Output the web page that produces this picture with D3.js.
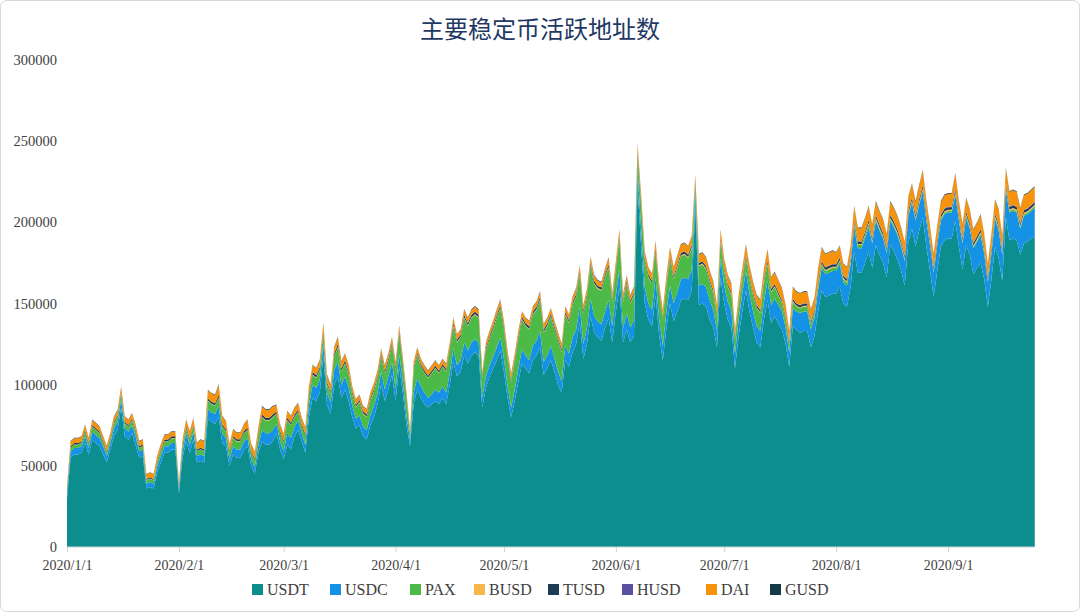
<!DOCTYPE html>
<html><head><meta charset="utf-8">
<script src="https://cdn.jsdelivr.net/npm/d3@7/dist/d3.min.js"></script>
<style>body{margin:0;background:#fff}svg{display:block}</style>
</head><body><svg id="c" width="1080" height="612"></svg>
<script>
// values in thousands of addresses, daily from 2020/1/1 to 2020/9/25
const unit = 1000;
const startDate = "2020-01-01";
const seriesNames = ["USDT","USDC","PAX","BUSD","TUSD","HUSD","DAI","GUSD"];
const yTicks = [0,50000,100000,150000,200000,250000,300000];
const xTickLabels = ["2020/1/1","2020/2/1","2020/3/1","2020/4/1","2020/5/1","2020/6/1","2020/7/1","2020/8/1","2020/9/1"];

const USDT = [
30,55,57,57,58,64,57,66,64,62,57,52,60,68,72,86,68,66,70,63,55,56,36,37,36,46,52,58,58,60,60,
33,55,65,58,66,52,53,52,79,77,76,80,64,62,50,57,55,55,60,62,50,45,58,65,63,63,65,70,60,
54,63,60,68,72,65,58,80,92,90,95,118,88,82,100,105,92,97,90,80,73,75,68,66,75,80,88,100,90,97,106,
90,111,95,75,62,88,97,92,88,86,88,90,88,92,88,100,114,105,108,118,113,118,120,118,86,98,105,110,115,121,
108,92,80,90,102,113,110,107,115,118,123,106,110,115,108,100,95,115,111,120,125,138,116,125,142,132,129,127,135,141,126,
145,160,126,134,126,130,222,185,150,140,136,155,130,115,135,150,139,145,152,153,152,158,210,149,150,148,140,135,123,166,
150,140,135,110,130,145,158,145,135,126,123,140,152,138,142,138,134,125,111,136,134,132,133,133,123,130,145,158,154,155,156,
156,160,150,148,160,182,169,169,175,182,172,186,180,175,166,186,182,177,170,161,188,196,185,195,203,185,170,154,170,185,189,
190,190,201,185,171,186,180,168,172,175,165,148,165,185,178,164,203,189,190,189,180,187,188,190,191];
const USDC = [
3,4,4,4,4,4,4,5,5,5,5,4,4,5,5,5,5,5,5,5,4,4,3,3,3,4,4,4,4,4,4,
3,4,5,5,5,4,4,4,6,6,6,7,6,5,4,5,5,5,5,5,4,4,5,7,7,7,7,6,5,
5,7,7,6,6,5,5,7,8,8,8,7,7,7,9,9,8,8,8,7,6,6,6,6,6,7,7,8,7,8,8,
7,8,7,6,4,7,7,7,7,6,6,7,7,7,7,7,8,7,7,8,8,8,8,8,6,7,7,7,8,8,
8,7,6,7,8,9,8,8,9,9,10,8,8,9,8,8,7,9,8,9,9,10,9,10,11,10,10,10,10,11,10,
10,11,9,10,9,10,10,11,10,10,10,11,10,9,10,11,11,12,13,13,13,13,8,12,12,12,12,11,10,12,
11,11,10,9,10,11,12,11,10,10,10,11,12,11,11,11,11,10,9,11,11,12,12,12,11,11,13,14,14,14,14,
14,14,13,13,14,15,15,15,15,15,15,15,15,15,15,15,15,15,15,15,16,16,16,16,16,16,16,15,16,16,16,
16,16,16,16,16,17,16,16,16,17,16,15,16,17,17,16,17,17,17,17,16,17,17,17,18];
const PAX = [
2,2,2,2,2,3,2,3,3,3,2,2,2,3,3,3,3,3,3,3,2,2,2,2,2,2,3,3,3,3,3,
1,3,3,3,3,3,3,3,5,5,5,5,4,4,4,5,5,5,5,5,4,4,5,8,8,8,8,6,5,
5,8,8,6,5,4,5,6,6,6,6,5,5,5,8,9,8,8,8,7,7,8,8,8,9,9,9,9,10,9,10,
12,12,10,10,3,14,14,12,12,12,13,13,12,12,13,14,14,14,14,15,15,15,15,15,12,16,16,17,18,18,
18,17,16,17,18,18,18,19,19,19,19,18,18,18,18,19,18,19,19,20,20,20,19,19,20,20,20,21,21,20,15,
15,18,16,18,15,15,9,14,16,16,16,16,16,16,16,16,15,15,14,14,13,13,5,12,12,11,11,10,9,10,
9,9,10,9,8,8,8,9,10,11,11,12,10,8,7,6,5,5,5,4,3,3,3,3,3,3,3,2,2,2,2,
2,2,2,2,2,2,2,2,2,2,1,1,1,1,1,1,1,1,1,1,1,1,1,1,1,1,1,1,1,1,1,
1,1,1,1,1,1,1,1,1,1,1,1,1,1,1,1,1,1,1,1,1,1,1,1,1];
const BUSD = [
0.2,0.2,0.2,0.2,0.2,0.2,0.2,0.2,0.2,0.2,0.2,0.2,0.2,0.2,0.2,0.3,0.2,0.2,0.2,0.2,0.2,0.2,0.2,0.2,0.2,0.2,0.2,0.2,0.2,0.2,0.2,
0.2,0.2,0.2,0.2,0.2,0.2,0.2,0.2,0.3,0.3,0.3,0.3,0.3,0.3,0.3,0.3,0.3,0.3,0.3,0.3,0.3,0.3,0.3,0.3,0.3,0.3,0.3,0.3,0.3,
0.3,0.3,0.3,0.3,0.3,0.3,0.3,0.3,0.4,0.4,0.4,0.5,0.4,0.4,0.4,0.4,0.4,0.4,0.4,0.4,0.4,0.4,0.4,0.4,0.4,0.4,0.4,0.4,0.4,0.4,0.4,
0.4,0.4,0.4,0.4,0.3,0.4,0.4,0.4,0.4,0.4,0.4,0.4,0.4,0.4,0.4,0.4,0.5,0.4,0.4,0.5,0.5,0.5,0.5,0.5,0.4,0.4,0.5,0.5,0.5,0.5,
0.5,0.5,0.4,0.5,0.5,0.5,0.5,0.5,0.5,0.5,0.5,0.5,0.5,0.5,0.5,0.5,0.5,0.5,0.5,0.5,0.5,0.6,0.5,0.5,0.6,0.5,0.5,0.5,0.5,0.6,0.5,
0.5,0.6,0.5,0.5,0.5,0.5,0.8,0.6,0.5,0.5,0.5,0.6,0.5,0.5,0.5,0.6,0.6,0.6,0.6,0.6,0.6,0.6,0.7,0.6,0.6,0.6,0.6,0.6,0.5,0.6,
0.6,0.6,0.6,0.5,0.6,0.6,0.6,0.6,0.6,0.6,0.6,0.6,0.6,0.6,0.6,0.6,0.6,0.6,0.5,0.6,0.6,0.6,0.6,0.6,0.6,0.6,0.7,0.7,0.7,0.7,0.7,
0.7,0.7,0.7,0.7,0.7,0.8,0.7,0.7,0.7,0.8,0.7,0.8,0.8,0.8,0.7,0.8,0.8,0.8,0.7,0.7,0.8,0.8,0.8,0.8,0.9,0.8,0.8,0.7,0.8,0.8,0.8,
0.8,0.8,0.9,0.8,0.8,0.9,0.8,0.8,0.8,0.9,0.8,0.7,0.8,0.9,0.9,0.8,1.0,0.9,0.9,0.9,0.8,0.9,0.9,0.9,0.9];
const TUSD = [
0.5,0.8,0.8,0.8,0.8,1,0.8,1,1,1,0.9,0.8,0.9,1,1,1.2,1,1,1,1,0.9,0.9,0.7,0.7,0.7,0.8,0.9,1,1,1,1,
0.6,0.9,1,1,1,0.9,0.9,0.9,1.2,1.2,1.2,1.5,1.2,1.1,1,1.1,1.1,1.1,1.1,1.1,1,1,1.1,1.3,1.3,1.3,1.3,1.2,1.1,
1.1,1.3,1.3,1.2,1.2,1.1,1.1,1.3,1.4,1.4,1.4,1.8,1.3,1.3,1.5,1.6,1.5,1.5,1.4,1.3,1.2,1.2,1.2,1.2,1.2,1.3,1.3,1.4,1.3,1.4,1.4,
1.3,1.4,1.3,1.1,0.8,1.2,1.3,1.2,1.2,1.1,1.1,1.2,1.2,1.2,1.2,1.2,1.4,1.3,1.3,1.4,1.4,1.4,1.4,1.4,1.1,1.2,1.3,1.3,1.3,1.4,
1.3,1.2,1.1,1.2,1.3,1.3,1.3,1.3,1.3,1.3,1.4,1.3,1.3,1.3,1.3,1.2,1.2,1.3,1.3,1.3,1.4,1.4,1.3,1.3,1.4,1.4,1.3,1.3,1.4,1.4,1.3,
1.3,1.4,1.2,1.3,1.2,1.3,1.8,1.6,1.3,1.3,1.3,1.4,1.3,1.2,1.3,1.4,1.3,1.3,1.4,1.4,1.4,1.4,1.6,1.3,1.3,1.3,1.3,1.3,1.2,1.4,
1.3,1.3,1.2,1.1,1.2,1.3,1.4,1.3,1.2,1.2,1.2,1.3,1.4,1.3,1.3,1.3,1.3,1.2,1.1,1.3,1.3,1.3,1.3,1.3,1.2,1.3,1.4,1.4,1.4,1.4,1.4,
1.4,1.4,1.3,1.3,1.4,1.5,1.4,1.4,1.4,1.5,1.4,1.5,1.5,1.5,1.4,1.5,1.5,1.5,1.4,1.4,1.5,1.5,1.5,1.5,1.6,1.5,1.4,1.3,1.4,1.5,1.5,
1.5,1.5,1.6,1.5,1.4,1.5,1.5,1.4,1.4,1.5,1.4,1.3,1.4,1.5,1.5,1.4,1.6,1.5,1.5,1.5,1.4,1.5,1.5,1.5,1.5];
const HUSD = [
0,0,0,0,0,0,0,0,0,0,0,0,0,0,0,0,0,0,0,0,0,0,0,0,0,0,0,0,0,0,0,
0,0,0,0,0,0,0,0,0,0,0,0,0,0,0,0,0,0,0,0,0,0,0,0,0,0,0,0,0,
0.1,0.1,0.1,0.1,0.1,0.1,0.1,0.1,0.1,0.1,0.1,0.2,0.1,0.1,0.1,0.1,0.1,0.1,0.1,0.1,0.1,0.1,0.1,0.1,0.1,0.1,0.1,0.1,0.1,0.1,0.1,
0.1,0.1,0.1,0.1,0.1,0.1,0.1,0.1,0.1,0.1,0.1,0.1,0.1,0.1,0.1,0.1,0.1,0.1,0.1,0.1,0.1,0.1,0.1,0.1,0.1,0.1,0.1,0.1,0.1,0.1,
0.2,0.2,0.2,0.2,0.2,0.2,0.2,0.2,0.2,0.2,0.2,0.2,0.2,0.2,0.2,0.2,0.2,0.2,0.2,0.2,0.2,0.2,0.2,0.2,0.2,0.2,0.2,0.2,0.2,0.2,0.2,
0.2,0.2,0.2,0.2,0.2,0.2,0.3,0.2,0.2,0.2,0.2,0.2,0.2,0.2,0.2,0.2,0.2,0.2,0.2,0.2,0.2,0.2,0.3,0.2,0.2,0.2,0.2,0.2,0.2,0.2,
0.2,0.2,0.2,0.2,0.2,0.2,0.2,0.2,0.2,0.2,0.2,0.2,0.2,0.2,0.2,0.2,0.2,0.2,0.2,0.2,0.2,0.2,0.2,0.2,0.2,0.2,0.2,0.3,0.3,0.3,0.3,
0.3,0.3,0.3,0.3,0.3,0.3,0.3,0.3,0.3,0.3,0.3,0.3,0.3,0.3,0.3,0.3,0.3,0.3,0.3,0.3,0.3,0.3,0.3,0.3,0.3,0.3,0.3,0.3,0.3,0.3,0.3,
0.3,0.3,0.3,0.3,0.3,0.3,0.3,0.3,0.3,0.3,0.3,0.3,0.3,0.3,0.3,0.3,0.3,0.3,0.3,0.3,0.3,0.3,0.3,0.3,0.3];
const DAI = [
2,3,3,3,3,3,3,3,3,3,3,3,3,3,3,3,3,3,3,3,3,3,3,3,3,3,3,3,3,3,3,
2,3,4,4,4,4,5,5,5,5,5,6,5,5,4,4,4,4,4,5,4,4,4,5,5,5,5,4,4,
4,4,4,4,4,4,4,4,4,4,4,5,4,4,4,4,4,4,4,3,3,3,3,3,3,3,3,3,3,3,3,
3,3,3,3,2,3,3,3,3,3,3,3,3,3,3,3,3,3,3,3,3,3,3,3,2,3,3,3,3,3,
3,3,3,3,3,3,3,3,3,3,3,3,3,3,3,3,3,3,3,3,3,3,3,3,3,3,3,3,3,4,3,
4,4,3,3,3,3,4,4,4,4,4,4,4,4,4,5,5,5,5,5,5,5,3,5,5,5,5,5,5,5,
5,5,5,4,5,5,6,6,6,6,6,6,7,7,7,7,7,7,6,7,7,7,7,7,7,7,8,8,8,8,8,
7,7,7,7,7,8,8,8,8,8,8,8,8,8,8,8,8,8,8,8,8,8,8,8,9,8,8,8,8,8,8,
8,8,9,8,8,8,8,8,8,9,8,8,8,8,9,8,9,9,9,9,9,9,9,9,9];
const GUSD = [
0.2,0.3,0.3,0.3,0.3,0.3,0.3,0.3,0.3,0.3,0.3,0.3,0.3,0.3,0.3,0.4,0.3,0.3,0.3,0.3,0.3,0.3,0.2,0.2,0.2,0.3,0.3,0.3,0.3,0.3,0.3,
0.2,0.3,0.3,0.3,0.3,0.3,0.3,0.3,0.4,0.4,0.4,0.4,0.4,0.3,0.3,0.3,0.3,0.3,0.3,0.3,0.3,0.3,0.3,0.4,0.4,0.4,0.4,0.3,0.3,
0.3,0.3,0.3,0.3,0.3,0.3,0.3,0.3,0.4,0.4,0.4,0.5,0.4,0.4,0.4,0.4,0.4,0.4,0.4,0.3,0.3,0.3,0.3,0.3,0.3,0.3,0.3,0.4,0.3,0.4,0.4,
0.3,0.4,0.3,0.3,0.2,0.3,0.3,0.3,0.3,0.3,0.3,0.3,0.3,0.3,0.3,0.3,0.4,0.3,0.3,0.4,0.4,0.4,0.4,0.4,0.3,0.3,0.3,0.3,0.4,0.4,
0.3,0.3,0.3,0.3,0.3,0.3,0.3,0.3,0.3,0.3,0.4,0.3,0.3,0.3,0.3,0.3,0.3,0.3,0.3,0.3,0.4,0.4,0.3,0.3,0.4,0.4,0.4,0.4,0.4,0.4,0.4,
0.4,0.4,0.3,0.4,0.3,0.4,0.6,0.5,0.4,0.4,0.4,0.4,0.4,0.3,0.4,0.4,0.4,0.4,0.4,0.4,0.4,0.4,0.5,0.4,0.4,0.4,0.4,0.4,0.3,0.4,
0.4,0.4,0.4,0.3,0.4,0.4,0.4,0.4,0.4,0.4,0.4,0.4,0.4,0.4,0.4,0.4,0.4,0.4,0.3,0.4,0.4,0.4,0.4,0.4,0.4,0.4,0.4,0.4,0.4,0.4,0.4,
0.4,0.4,0.4,0.4,0.4,0.5,0.4,0.4,0.4,0.5,0.4,0.5,0.5,0.5,0.4,0.5,0.5,0.5,0.4,0.4,0.5,0.5,0.5,0.5,0.5,0.5,0.4,0.4,0.4,0.5,0.5,
0.5,0.5,0.5,0.5,0.4,0.5,0.5,0.4,0.4,0.5,0.4,0.4,0.4,0.5,0.5,0.4,0.5,0.5,0.5,0.5,0.5,0.5,0.5,0.5,0.5];

const seriesValues = {USDT,USDC,PAX,BUSD,TUSD,HUSD,DAI,GUSD};
const colors = {USDT:"#0d8e8e",USDC:"#1592e6",PAX:"#4cba46",BUSD:"#f7b84b",TUSD:"#1d3d57",HUSD:"#5c4ea0",DAI:"#f7920d",GUSD:"#173a48"};

const parse = d3.timeParse("%Y-%m-%d");
const t0 = parse(startDate);
const n = USDT.length;
const rows = d3.range(n).map(i => {
  const r = {date: d3.timeDay.offset(t0, i)};
  seriesNames.forEach(k => r[k] = (seriesValues[k][i] || 0) * unit);
  return r;
});

const svg = d3.select("#c");
svg.append("rect").attr("x",0.5).attr("y",0.5).attr("width",1079).attr("height",611)
  .attr("rx",6).attr("fill","#fff").attr("stroke","#d9d9d9");

const m = {l:67, r:45, t:60, b:65};
const W = 1080, H = 612;
const x = d3.scaleTime().domain([t0, d3.timeDay.offset(t0, n-1)]).range([m.l, m.l + 3.611*(n-1)]);
const y = d3.scaleLinear().domain([0,300000]).range([H-m.b, m.t]);

const stack = d3.stack().keys(seriesNames)(rows);
const area = d3.area().x(d => x(d.data.date)).y0(d => y(d[0])).y1(d => y(d[1]));
svg.append("g").selectAll("path").data(stack).join("path")
  .attr("d", area).attr("fill", d => colors[d.key]);

svg.append("g").selectAll("text").data(yTicks).join("text")
  .attr("x", 57).attr("y", d => y(d)+5).attr("text-anchor","end")
  .attr("font-family","Liberation Serif, serif").attr("font-size",14.5).attr("fill","#404040")
  .text(d => d);

const xTicks = xTickLabels.map(s => { const p = s.split("/"); return new Date(+p[0], +p[1]-1, +p[2]); });
const xa = svg.append("g").attr("transform",`translate(0,${y(0)})`)
  .call(d3.axisBottom(x).tickValues(xTicks).tickSize(5).tickFormat((d,i)=>xTickLabels[i]));
xa.select(".domain").attr("stroke","#d0d0d0").attr("d",`M${m.l},0H${m.l+3.611*(n-1)}`);
xa.selectAll(".tick line").attr("stroke","#d0d0d0");
xa.selectAll("text").attr("font-family","Liberation Serif, serif").attr("font-size",14).attr("fill","#404040").attr("dy","1.1em");

svg.append("text").attr("x",540).attr("y",38).attr("text-anchor","middle")
  .attr("font-family","Noto Sans CJK SC").attr("font-size",24).attr("fill","#1f3864")
  .text("主要稳定币活跃地址数");

const lx = [252,330,410,474,548,622,706,770];
const lg = svg.append("g");
seriesNames.forEach((k,i) => {
  lg.append("rect").attr("x",lx[i]).attr("y",584).attr("width",11).attr("height",11).attr("fill",colors[k]);
  lg.append("text").attr("x",lx[i]+15).attr("y",595).attr("font-family","Liberation Serif, serif")
    .attr("font-size",16).attr("fill","#404040").text(k);
});
</script></body></html>
